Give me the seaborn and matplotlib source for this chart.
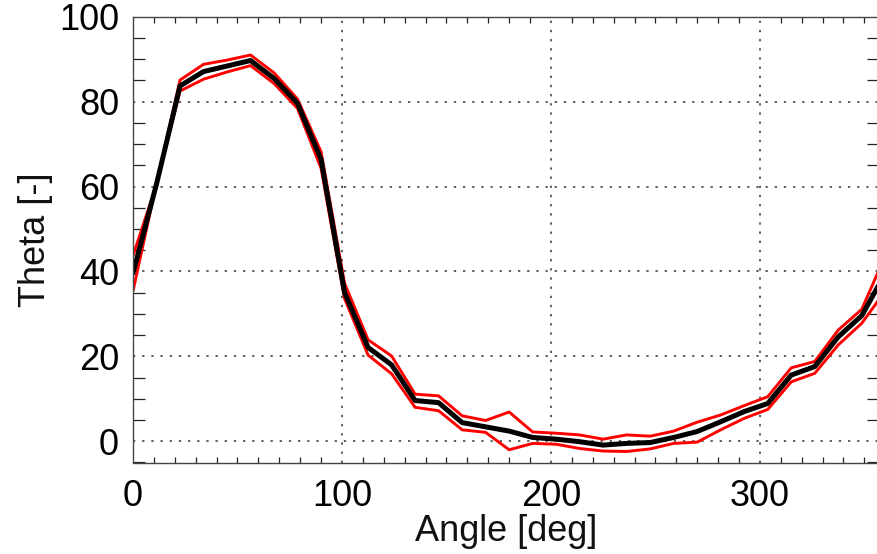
import matplotlib
matplotlib.use("Agg")
import matplotlib.pyplot as plt
from matplotlib import font_manager
from matplotlib.ticker import MultipleLocator, FixedLocator
import numpy as np
import pandas as pd
import seaborn as sns

# Azimuthal angle samples (every 11.25 deg, one full turn)
angle = [0.0, 11.25, 22.5, 33.75, 45.0, 56.25, 67.5, 78.75, 90.0, 101.25,
         112.5, 123.75, 135.0, 146.25, 157.5, 168.75, 180.0, 191.25, 202.5,
         213.75, 225.0, 236.25, 247.5, 258.75, 270.0, 281.25, 292.5, 303.75,
         315.0, 326.25, 337.5, 348.75, 360.0]

# Mean theta and its upper / lower envelope
theta_mean = [39.6, 60.6, 83.7, 87.1, 88.4, 89.7, 85.5, 79.6, 66.4, 35.0,
              22.1, 18.0, 9.6, 9.1, 4.4, 3.4, 2.4, 0.9, 0.5, -0.1, -0.9,
              -0.5, -0.3, 0.9, 2.3, 4.6, 7.0, 8.9, 15.6, 17.6, 24.6, 29.6,
              39.6]
theta_upper = [43.7, 60.5, 85.1, 88.8, 89.8, 91.0, 86.8, 80.6, 68.2, 37.2,
               23.9, 20.1, 11.1, 10.7, 6.0, 4.9, 6.9, 2.2, 1.9, 1.5, 0.5,
               1.5, 1.2, 2.4, 4.5, 6.2, 8.4, 10.5, 17.3, 18.8, 26.2, 31.1,
               43.7]
theta_lower = [35.4, 60.8, 82.5, 85.3, 87.0, 88.5, 84.3, 78.4, 64.3, 33.6,
               20.3, 15.9, 8.0, 7.2, 2.7, 2.1, -2.0, -0.5, -0.7, -1.7, -2.3,
               -2.4, -1.8, -0.5, -0.2, 2.7, 5.4, 7.5, 14.0, 16.0, 22.7, 27.8,
               35.4]

x_major = [0, 100, 200, 300]
y_major = [0, 20, 40, 60, 80, 100]

df = pd.DataFrame({"angle": angle, "mean": theta_mean,
                   "upper": theta_upper, "lower": theta_lower})

sns.set_theme(style="white")
installed = {f.name for f in font_manager.fontManager.ttflist}
family = ["Liberation Sans Narrow", "Liberation Sans", "DejaVu Sans"]
family = [f for f in family if f in installed] or ["DejaVu Sans"]
plt.rcParams["font.family"] = family

fig = plt.figure(figsize=(8.77, 5.54), dpi=100)
ax = fig.add_axes([133 / 877, (554 - 462.5) / 554, 746 / 877, 445.7 / 554])

sns.lineplot(data=df, x="angle", y="upper", ax=ax, color="#ff0000",
             linewidth=2.1, estimator=None, sort=False)
sns.lineplot(data=df, x="angle", y="lower", ax=ax, color="#ff0000",
             linewidth=2.1, estimator=None, sort=False)
sns.lineplot(data=df, x="angle", y="mean", ax=ax, color="black",
             linewidth=3.6, estimator=None, sort=False)

ax.set_xlim(0, 357)
ax.set_ylim(-5, 100)

# Dotted grid at the major values
for xv in x_major[1:]:
    ax.axvline(xv, color="#333333", linewidth=1.1,
               linestyle=(0, (1.5, 4.5)), zorder=0)
for yv in y_major[:-1]:
    ax.axhline(yv, color="#333333", linewidth=1.1,
               linestyle=(0, (1.5, 4.5)), zorder=0)

ax.xaxis.set_major_locator(FixedLocator(x_major))
ax.yaxis.set_major_locator(FixedLocator(y_major))
ax.xaxis.set_minor_locator(MultipleLocator(10))
ax.yaxis.set_minor_locator(MultipleLocator(5))
ax.tick_params(axis="both", which="major", length=0, labelsize=26,
               colors="black")
ax.tick_params(axis="x", which="major", pad=12)
ax.tick_params(axis="y", which="major", pad=10)
ax.tick_params(axis="x", which="minor", direction="in", length=4.5,
               width=0.9, top=True, bottom=True, color="#222222")
ax.tick_params(axis="y", which="minor", direction="in", length=8.5,
               width=0.9, left=True, right=True, color="#222222")

for s in ax.spines.values():
    s.set_color("#444444")
    s.set_linewidth(1.0)

ax.set_xlabel("Angle [deg]", fontsize=26, labelpad=0, color="#111111")
ax.set_ylabel("Theta [-]", fontsize=26, labelpad=4, color="#111111")

fig.savefig("out.png", dpi=100)
